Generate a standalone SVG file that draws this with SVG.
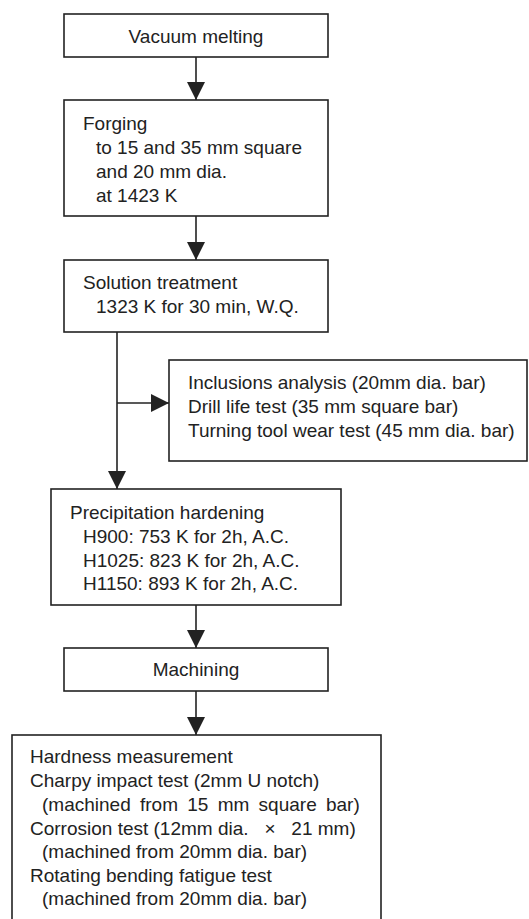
<svg xmlns="http://www.w3.org/2000/svg" width="529" height="919" viewBox="0 0 529 919">
<style>
rect{fill:#fff;stroke:#222;stroke-width:1.6}
text{font-family:"Liberation Sans",Arial,sans-serif;font-size:19px;fill:#222}
.c{text-anchor:middle}
.ln{stroke:#222;stroke-width:1.6;fill:none}
</style>
<defs>
<marker id="ah" viewBox="0 0 18 18" refX="18" refY="9" markerWidth="18" markerHeight="18" markerUnits="userSpaceOnUse" orient="auto">
<path d="M0,0 L18,9 L0,18 Z" fill="#222"/>
</marker>
</defs>
<rect width="529" height="919" style="fill:#fff;stroke:none"/>
<g id="connectors">
<line class="ln" x1="196" y1="57" x2="196" y2="100" marker-end="url(#ah)"/>
<line class="ln" x1="196" y1="216" x2="196" y2="260" marker-end="url(#ah)"/>
<line class="ln" x1="117" y1="332" x2="117" y2="489" marker-end="url(#ah)"/>
<line class="ln" x1="117" y1="403" x2="169" y2="403" marker-end="url(#ah)"/>
<line class="ln" x1="196" y1="605" x2="196" y2="648" marker-end="url(#ah)"/>
<line class="ln" x1="196" y1="691" x2="196" y2="735" marker-end="url(#ah)"/>
</g>
<g id="vacuum">
<rect x="64" y="14" width="264" height="43"/>
<text class="c" x="196" y="43">Vacuum melting</text>
</g>
<g id="forging">
<rect x="64" y="100" width="264" height="116"/>
<text x="83" y="130">Forging</text>
<text x="96" y="154">to 15 and 35 mm square</text>
<text x="96" y="178">and 20 mm dia.</text>
<text x="96" y="202">at 1423 K</text>
</g>
<g id="solution">
<rect x="64" y="260" width="264" height="72"/>
<text x="83" y="289">Solution treatment</text>
<text x="96" y="313">1323 K for 30 min, W.Q.</text>
</g>
<g id="tests1">
<rect x="169" y="360" width="358" height="101"/>
<text x="188" y="389">Inclusions analysis (20mm dia. bar)</text>
<text x="188" y="413">Drill life test (35 mm square bar)</text>
<text x="188" y="437">Turning tool wear test (45 mm dia. bar)</text>
</g>
<g id="precipitation">
<rect x="51" y="489" width="290" height="116"/>
<text x="70" y="519">Precipitation hardening</text>
<text x="83" y="543">H900: 753 K for 2h, A.C.</text>
<text x="83" y="567">H1025: 823 K for 2h, A.C.</text>
<text x="83" y="590">H1150: 893 K for 2h, A.C.</text>
</g>
<g id="machining">
<rect x="64" y="648" width="264" height="43"/>
<text class="c" x="196" y="676">Machining</text>
</g>
<g id="tests2">
<rect x="12" y="735" width="369" height="200"/>
<text x="30" y="763">Hardness measurement</text>
<text x="30" y="787">Charpy impact test (2mm U notch)</text>
<text x="42" y="811" word-spacing="4">(machined from 15 mm square bar)</text>
<text x="30" y="835" xml:space="preserve">Corrosion test (12mm dia.   ×   21 mm)</text>
<text x="42" y="858">(machined from 20mm dia. bar)</text>
<text x="30" y="882">Rotating bending fatigue test</text>
<text x="42" y="905">(machined from 20mm dia. bar)</text>
</g>
</svg>
